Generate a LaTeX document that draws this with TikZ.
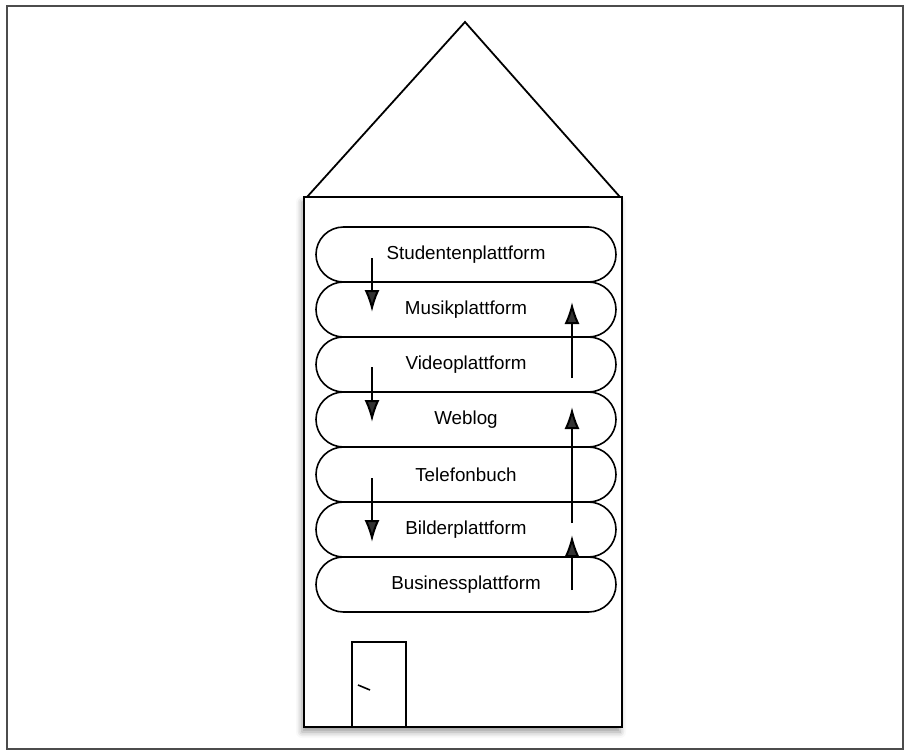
\documentclass[tikz,border=0pt]{standalone}
\usepackage{fontspec}
\setmainfont{Liberation Sans}
\usetikzlibrary{arrows.meta,positioning,shadows.blur}

\tikzset{
  plattform/.style={draw, line width=0.8pt, rounded corners=13.75pt,
    minimum width=150pt, minimum height=27.5pt, inner sep=0pt, outer sep=0pt,
    font=\fontsize{9.4}{11}\selectfont},
  flow/.style={-{Latex[length=11pt,width=7.5pt]}, line width=1pt},
  wall/.style={line width=0.9pt},
}

\begin{document}
\begin{tikzpicture}[x=0.5pt,y=-0.5pt]
  \useasboundingbox (0,0) rectangle (911,755);
  % frame
  \draw[line width=1.2pt, black!70] (7,6) rectangle (903,749);
  % house
  \filldraw[wall, fill=white, blur shadow={shadow xshift=-1pt, shadow yshift=-2.5pt, shadow blur radius=3pt}] (304,197) rectangle (622,727);
  \draw[wall] (307,197) -- (465,22) -- (620,197);
  % door
  \draw[line width=0.8pt] (352,727) |- (406,642) -- (406,727);
  \draw[line width=0.8pt] (358,685) -- (370,690);
  % floors
  \node[plattform] (stud) at (466,254.5) {Studentenplattform};
  \node[plattform, below=0pt of stud] (musik) {Musikplattform};
  \node[plattform, below=0pt of musik] (video) {Videoplattform};
  \node[plattform, below=0pt of video] (weblog) {Weblog};
  \node[plattform, below=0pt of weblog] (telefon) {Telefonbuch};
  \node[plattform, below=0pt of telefon] (bilder) {Bilderplattform};
  \node[plattform, below=0pt of bilder] (business) {Businessplattform};
  % down the left, up the right
  \foreach \n/\a/\b in {1/258/312, 2/367/422, 3/478/542}{
    \coordinate (down\n) at (372,\a);
    \coordinate (downend\n) at (372,\b);
    \draw[flow] (down\n) -- (downend\n);
  }
  \foreach \n/\a/\b in {1/378/302, 2/523/407, 3/590/535}{
    \coordinate (up\n) at (572,\a);
    \coordinate (upend\n) at (572,\b);
    \draw[flow] (up\n) -- (upend\n);
  }
\end{tikzpicture}
\end{document}
